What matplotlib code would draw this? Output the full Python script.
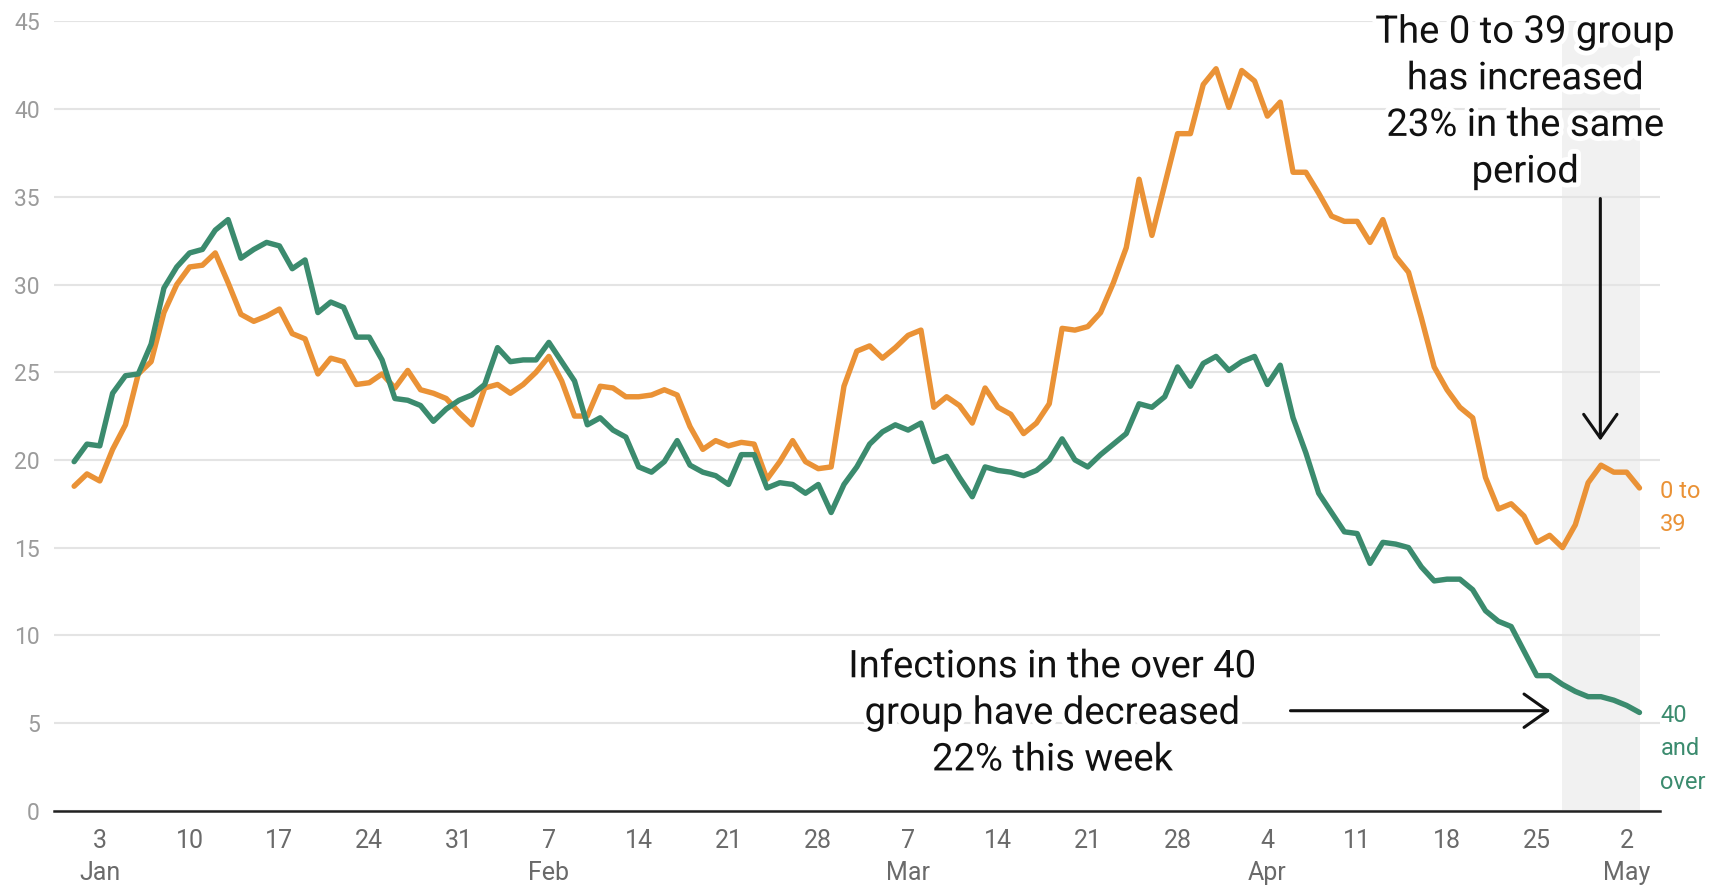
import numpy as np
import matplotlib
matplotlib.use("Agg")
import matplotlib.pyplot as plt
import matplotlib.dates as mdates
import matplotlib.patheffects as pe

plt.rcParams['font.family'] = ['Roboto', 'DejaVu Sans']

# ---- data (daily, starting 1 Jan 2021) ----
start_date = "2021-01-01"
age_0_39 = [
    18.5, 19.2, 18.8, 20.6, 22.0, 24.9, 25.6, 28.4, 30.0, 31.0,
    31.1, 31.8, 30.1, 28.3, 27.9, 28.2, 28.6, 27.2, 26.9, 24.9,
    25.8, 25.6, 24.3, 24.4, 24.9, 24.1, 25.1, 24.0, 23.8, 23.5,
    22.7, 22.0, 24.1, 24.3, 23.8, 24.3, 25.0, 25.9, 24.5, 22.5,
    22.5, 24.2, 24.1, 23.6, 23.6, 23.7, 24.0, 23.7, 21.9, 20.6,
    21.1, 20.8, 21.0, 20.9, 18.9, 19.9, 21.1, 19.9, 19.5, 19.6,
    24.2, 26.2, 26.5, 25.8, 26.4, 27.1, 27.4, 23.0, 23.6, 23.1,
    22.1, 24.1, 23.0, 22.6, 21.5, 22.1, 23.2, 27.5, 27.4, 27.6,
    28.4, 30.1, 32.1, 36.0, 32.8, 35.7, 38.6, 38.6, 41.4, 42.3,
    40.1, 42.2, 41.6, 39.6, 40.4, 36.4, 36.4, 35.2, 33.9, 33.6,
    33.6, 32.4, 33.7, 31.6, 30.7, 28.1, 25.3, 24.0, 23.0, 22.4,
    19.0, 17.2, 17.5, 16.8, 15.3, 15.7, 15.0, 16.3, 18.7, 19.7,
    19.3, 19.3, 18.4,
]
age_40_plus = [
    19.9, 20.9, 20.8, 23.8, 24.8, 24.9, 26.6, 29.8, 31.0, 31.8,
    32.0, 33.1, 33.7, 31.5, 32.0, 32.4, 32.2, 30.9, 31.4, 28.4,
    29.0, 28.7, 27.0, 27.0, 25.7, 23.5, 23.4, 23.1, 22.2, 22.9,
    23.4, 23.7, 24.3, 26.4, 25.6, 25.7, 25.7, 26.7, 25.6, 24.5,
    22.0, 22.4, 21.7, 21.3, 19.6, 19.3, 19.9, 21.1, 19.7, 19.3,
    19.1, 18.6, 20.3, 20.3, 18.4, 18.7, 18.6, 18.1, 18.6, 17.0,
    18.6, 19.6, 20.9, 21.6, 22.0, 21.7, 22.1, 19.9, 20.2, 19.0,
    17.9, 19.6, 19.4, 19.3, 19.1, 19.4, 20.0, 21.2, 20.0, 19.6,
    20.3, 20.9, 21.5, 23.2, 23.0, 23.6, 25.3, 24.2, 25.5, 25.9,
    25.1, 25.6, 25.9, 24.3, 25.4, 22.4, 20.4, 18.1, 17.0, 15.9,
    15.8, 14.1, 15.3, 15.2, 15.0, 13.9, 13.1, 13.2, 13.2, 12.6,
    11.4, 10.8, 10.5, 9.1, 7.7, 7.7, 7.2, 6.8, 6.5, 6.5,
    6.3, 6.0, 5.6,
]
series_labels = ["0 to\n39", "40\nand\nover"]
series_colors = ["#EA9236", "#3B8B6E"]

tick_dates = ["2021-01-03", "2021-01-10", "2021-01-17", "2021-01-24", "2021-01-31",
              "2021-02-07", "2021-02-14", "2021-02-21", "2021-02-28",
              "2021-03-07", "2021-03-14", "2021-03-21", "2021-03-28",
              "2021-04-04", "2021-04-11", "2021-04-18", "2021-04-25", "2021-05-02"]
tick_labels = ["3\nJan", "10", "17", "24", "31", "7\nFeb", "14", "21", "28",
               "7\nMar", "14", "21", "28", "4\nApr", "11", "18", "25", "2\nMay"]
y_ticks = [0, 5, 10, 15, 20, 25, 30, 35, 40, 45]

highlight = ("2021-04-27", "2021-05-03")
note_up = "The 0 to 39 group\nhas increased\n23% in the same\nperiod"
note_down = "Infections in the over 40\ngroup have decreased\n22% this week"

# ---- figure ----
W, H = 1714, 885
fig = plt.figure(figsize=(W / 100, H / 100), dpi=100)
ax = fig.add_axes([53.6 / W, (H - 810.7) / H, (1660 - 53.6) / W, (810.7 - 21.4) / H])

dates = np.datetime64(start_date) + np.arange(len(age_0_39))
xd = mdates.date2num(dates)

ax.axvspan(mdates.date2num(np.datetime64(highlight[0])) - 0.05,
           mdates.date2num(np.datetime64(highlight[1])) + 0.05,
           color="#f1f1f1", zorder=0, lw=0)

for vals, col in zip([age_0_39, age_40_plus], series_colors):
    ax.plot(xd, vals, color=col, lw=3.9, solid_joinstyle="round",
            solid_capstyle="round", zorder=3)

ax.set_xlim(xd[0] - 1.6, xd[-1] + 1.6)
ax.set_ylim(0, 45)
ax.set_yticks(y_ticks)
ax.yaxis.grid(True, color="#e4e4e4", lw=1.5, zorder=1)
ax.set_axisbelow(True)
ax.set_xticks(mdates.date2num(np.array(tick_dates, dtype="datetime64[D]")))
ax.set_xticklabels(tick_labels, linespacing=1.42)
ax.tick_params(axis="y", length=0, pad=10, labelsize=16.5, labelcolor="#9b9b9b")
ax.tick_params(axis="x", length=0, pad=13, labelsize=18, labelcolor="#6a6a6a")
for s in ["left", "right", "top"]:
    ax.spines[s].set_visible(False)
ax.spines["bottom"].set_color("#222222")
ax.spines["bottom"].set_linewidth(1.8)
ax.spines["bottom"].set_zorder(4)

# end labels
for vals, col, lab in zip([age_0_39, age_40_plus], series_colors, series_labels):
    ax.annotate(lab, xy=(xd[-1], vals[-1]), xytext=(15, 6), textcoords="offset points",
                ha="left", va="top", fontsize=17, color=col, linespacing=1.57,
                annotation_clip=False)

halo = [pe.withStroke(linewidth=7, foreground="white")]
ax.text(mdates.date2num(np.datetime64("2021-04-24")) + 0.1, 40.4, note_up, ha="center",
        va="center", fontsize=27.5, color="#111111", linespacing=1.33,
        path_effects=halo, zorder=5, clip_on=False)
ax.text(mdates.date2num(np.datetime64("2021-03-18")) + 0.25, 5.55, note_down, ha="center",
        va="center", fontsize=27.5, color="#111111", linespacing=1.33,
        path_effects=halo, zorder=5)

arrow_style = "->,head_length=0.85,head_width=0.6"
ax.annotate("", xy=(mdates.date2num(np.datetime64("2021-04-30")) - 0.05, 21.1),
            xytext=(mdates.date2num(np.datetime64("2021-04-30")) - 0.05, 34.9),
            arrowprops=dict(arrowstyle=arrow_style, color="#111111", lw=2.2,
                            mutation_scale=20, shrinkA=0, shrinkB=0), zorder=6)
ax.annotate("", xy=(mdates.date2num(np.datetime64("2021-04-26")) + 0.05, 5.7),
            xytext=(mdates.date2num(np.datetime64("2021-04-05")) + 0.8, 5.7),
            arrowprops=dict(arrowstyle=arrow_style, color="#111111", lw=2.2,
                            mutation_scale=20, shrinkA=0, shrinkB=0), zorder=6)

fig.savefig("out.png", dpi=100, facecolor="white")
